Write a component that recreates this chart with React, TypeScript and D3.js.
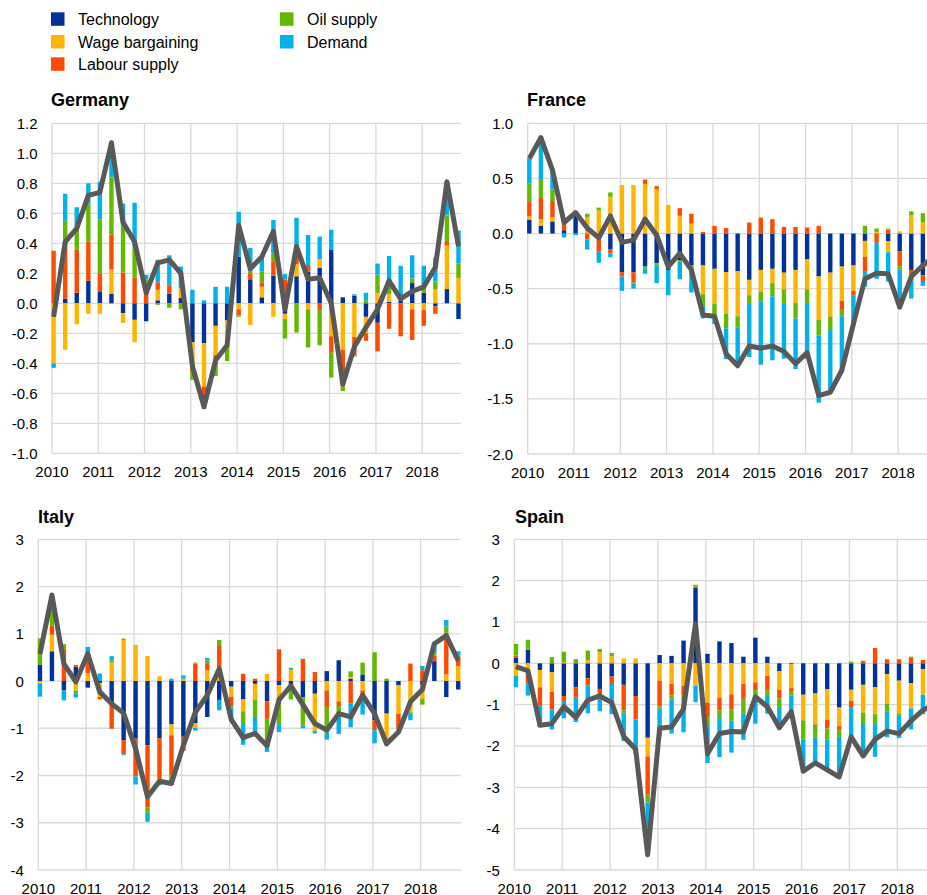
import React, { useEffect, useRef } from 'react';
import * as d3 from 'd3';

// series, in stacking order
const seriesKeys = ['tech', 'wage', 'labour', 'oil', 'demand'];
const seriesNames = ['Technology', 'Wage bargaining', 'Labour supply', 'Oil supply', 'Demand'];
const seriesColors = ['#003299', '#ffb400', '#ff4b00', '#65b800', '#00b1ea'];

const years = [2010, 2011, 2012, 2013, 2014, 2015, 2016, 2017, 2018];

// Germany (2010Q1 - 2018Q4)
const deTech = [0, 0.03, 0.07, 0.15, 0.08, 0.065, -0.065, -0.11, -0.12, 0.02, 0.065, 0.035, -0.26, -0.265, -0.15, -0.115, 0.31, 0.16, 0.04, 0.185, -0.07, 0.18, 0.21, 0.235, 0.355, 0.04, 0.05, -0.09, -0.13, 0.01, 0.02, 0.135, 0.07, -0.02, 0.095, -0.105];
const deWage = [-0.4, -0.31, -0.14, -0.07, -0.07, 0.16, -0.065, -0.15, 0, 0.07, 0, 0.065, -0.17, -0.29, -0.195, -0.17, -0.04, -0.145, 0.07, -0.09, -0.035, 0.08, -0.04, 0.06, -0.22, -0.31, -0.225, -0.11, 0.07, 0.05, 0, -0.04, -0.045, 0.095, 0.29, 0.17];
const deLabour = [0.35, 0.37, 0.29, 0.26, 0.12, 0.235, 0.205, 0.17, 0.08, 0.05, 0.055, 0, -0.03, -0.07, -0.02, 0, -0.04, 0.04, 0.03, 0.09, 0.16, 0.055, 0.045, -0.045, -0.11, -0.245, -0.12, -0.05, -0.19, -0.17, -0.22, -0.205, -0.105, -0.05, 0.03, 0.005];
const deOil = [0, 0.15, 0.15, 0.25, 0.36, 0.38, 0.31, 0.2, 0.08, -0.01, -0.03, -0.04, -0.05, -0.08, -0.12, -0.1, -0.01, 0.01, 0.07, 0.06, -0.13, -0.195, -0.255, -0.235, -0.165, -0.03, -0.01, 0.02, 0.12, 0.045, 0, 0.03, 0.02, 0.05, 0.17, 0.09];
const deDemand = [-0.03, 0.18, 0.13, 0.14, 0.25, 0.24, 0.15, 0.3, 0.03, 0.15, 0.2, 0.145, 0.09, 0.02, 0.11, 0.11, 0.3, 0.16, 0.1, 0.22, 0.035, 0.255, 0.2, 0.15, 0.135, 0, 0.01, 0.05, 0.075, 0.21, 0.23, 0.155, 0.16, 0.16, 0.23, 0.22];
const deTotal = [-0.09, 0.41, 0.5, 0.72, 0.74, 1.07, 0.54, 0.41, 0.07, 0.27, 0.29, 0.2, -0.42, -0.69, -0.38, -0.28, 0.52, 0.23, 0.31, 0.48, -0.04, 0.38, 0.16, 0.17, 0, -0.54, -0.29, -0.16, -0.04, 0.15, 0.03, 0.08, 0.11, 0.24, 0.81, 0.38];
const deTicks = [-1.0, -0.8, -0.6, -0.4, -0.2, 0.0, 0.2, 0.4, 0.6, 0.8, 1.0, 1.2];

// France
const frTech = [0.127, 0.07, 0.11, 0.03, 0.18, 0, 0, -0.145, -0.35, -0.35, -0.3, -0.27, -0.33, -0.24, -0.29, -0.29, -0.32, -0.35, -0.34, -0.42, -0.33, -0.32, -0.355, -0.33, -0.235, -0.39, -0.355, -0.3, -0.29, -0.067, 0, -0.07, -0.16, -0.33, -0.38, -0.3];
const frWage = [0.03, 0.06, 0.04, 0, 0, 0.15, 0.21, 0.333, 0.44, 0.44, 0.45, 0.4, 0.26, 0.16, 0.09, -0.26, -0.32, -0.38, -0.41, -0.14, -0.2, -0.13, -0.15, -0.3, -0.27, -0.39, -0.4, -0.31, -0.23, -0.145, 0.015, -0.1, 0.02, 0.167, 0.1, 0.1];
const frLabour = [0.13, 0.2, 0.145, 0.07, 0, -0.055, -0.165, -0.035, -0.04, -0.09, 0.04, 0.03, 0, 0.07, 0.09, 0.015, 0.07, 0.05, 0, 0.1, 0.145, 0.13, 0.06, 0.06, 0.055, 0.07, -0.01, -0.075, -0.04, -0.135, -0.085, 0.035, -0.135, -0.05, -0.06, -0.05];
const frOil = [0.165, 0.165, 0.105, 0.03, 0, 0.03, 0.025, 0.04, 0, -0.015, -0.02, -0.02, 0, -0.015, -0.015, -0.1, -0.1, -0.13, -0.1, -0.08, -0.09, -0.12, -0.125, -0.14, -0.125, -0.145, -0.11, -0.065, 0, 0.07, 0.03, 0.01, -0.03, 0.035, 0.085, 0.08];
const frDemand = [0.23, 0.39, 0.17, -0.035, -0.015, -0.09, -0.1, -0.035, -0.13, -0.045, -0.045, -0.16, -0.23, -0.16, -0.23, -0.12, -0.08, -0.28, -0.35, -0.48, -0.57, -0.58, -0.505, -0.46, -0.505, -0.61, -0.55, -0.51, -0.26, -0.135, -0.325, -0.265, -0.34, -0.21, -0.035, -0.03];
const frTotal = [0.68, 0.87, 0.575, 0.1, 0.19, 0.05, -0.04, 0.16, -0.08, -0.06, 0.13, -0.015, -0.3, -0.18, -0.33, -0.74, -0.75, -1.09, -1.2, -1.02, -1.04, -1.02, -1.07, -1.18, -1.08, -1.47, -1.44, -1.24, -0.82, -0.41, -0.36, -0.365, -0.667, -0.39, -0.29, -0.2];
const frTicks = [-2.0, -1.5, -1.0, -0.5, 0.0, 0.5, 1.0];

// Italy
const itTech = [0.35, 0.63, -0.2, 0.3, -0.14, -0.04, -0.45, -1.25, -1.22, -1.36, -1.21, -0.92, -1.18, -0.89, -0.76, -0.4, -0.12, -0.39, -0.06, -0.43, -0.09, -0.09, -0.34, -0.27, 0.21, 0.44, 0.05, 0.14, -0.83, -0.69, -0.09, 0, -0.08, 0.42, -0.34, -0.18];
const itWage = [-0.05, 0.35, 0, -0.2, 0.17, -0.3, 0.4, 0.87, 0.74, 0.53, 0.1, -0.23, 0.05, -0.1, 0.23, 0.08, -0.21, -0.25, -0.33, 0.15, -0.25, 0.24, 0, -0.78, -0.2, -0.43, 0.035, -0.2, 0, -0.67, -0.6, -0.66, -0.3, 0, 0.14, 0.32];
const itLabour = [0, 0.19, 0.68, 0.04, 0.3, -0.05, -0.56, -0.3, -0.8, -1.32, -0.86, -0.85, -0.3, 0.37, 0.13, 0.66, -0.2, 0.155, 0.05, -0.37, 0.67, 0, 0.47, 0.19, -0.35, -0.1, -0.47, -0.08, -0.21, 0, -0.32, 0.37, 0.23, 0.12, 0.88, 0.19];
const itOil = [0.55, 0.55, 0.1, -0.07, 0.1, 0, 0.035, 0.03, 0.015, -0.11, -0.035, -0.2, 0, 0.02, 0.08, 0.13, -0.03, -0.27, -0.37, -0.6, -0.58, -0.3, -0.6, -0.03, -0.54, -0.15, 0.12, 0.25, 0.61, 0.05, -0.07, -0.02, -0.12, 0.05, 0.13, 0.035];
const itDemand = [-0.28, 0.08, -0.21, -0.08, 0.15, 0.16, 0.09, -0.02, -0.17, -0.19, -0.1, 0.05, 0.07, -0.06, 0.05, -0.22, -0.25, -0.44, -0.4, -0.1, -0.16, 0.04, -0.06, -0.03, -0.15, -0.44, -0.51, -0.43, -0.28, 0, 0, -0.15, 0.09, 0.2, 0.14, 0.085];
const itTotal = [0.57, 1.82, 0.37, -0.02, 0.58, -0.23, -0.48, -0.68, -1.43, -2.45, -2.12, -2.17, -1.36, -0.66, -0.3, 0.26, -0.81, -1.2, -1.11, -1.37, -0.4, -0.1, -0.5, -0.9, -1.04, -0.69, -0.76, -0.3, -0.69, -1.33, -1.08, -0.44, -0.18, 0.79, 0.96, 0.43];
const itTicks = [-4, -3, -2, -1, 0, 1, 2, 3];

// Spain
const esTech = [0.13, 0.33, -0.16, -0.22, -0.79, -0.58, -0.36, -0.62, -0.32, -0.52, -0.79, -1.8, 0.2, 0.18, 0.55, 1.82, 0.23, 0.53, 0.49, 0.16, 0.62, 0.16, -0.19, -0.02, -0.76, -0.73, -0.63, -1.07, -0.64, -0.52, -0.58, -0.26, -0.42, -0.48, -0.14, -0.1];
const esWage = [-0.3, -0.16, -0.42, -0.47, 0.03, 0, 0.08, 0.27, 0.17, 0.12, 0.12, -0.45, -0.42, -0.5, -0.54, -0.54, -0.95, -0.83, -0.75, -0.5, -0.46, -0.3, -0.45, -0.58, -0.62, -0.75, -0.73, -0.45, -0.27, -0.67, -0.65, -0.71, -0.79, -0.61, -0.62, -0.55];
const esLabour = [0.06, -0.32, -0.43, -0.42, -0.12, -0.24, -0.18, -0.2, -0.18, -0.62, -0.57, -0.93, -0.62, -0.28, -0.24, 0.04, -0.35, -0.31, -0.36, -0.36, -0.19, -0.35, -0.21, -0.07, 0, -0.04, -0.22, -0.1, -0.15, 0.06, 0.37, 0.1, 0.1, 0.13, 0.08, 0.05];
const esOil = [0.28, 0.24, 0, 0.15, 0.25, 0.1, 0.23, 0.08, 0.08, -0.08, 0, -0.19, -0.06, -0.1, -0.12, 0.04, -0.22, -0.19, -0.28, -0.36, -0.14, -0.14, -0.23, -0.11, -0.46, -0.28, -0.27, -0.16, 0.04, -0.28, -0.24, -0.19, -0.06, 0.03, 0, 0];
const esDemand = [-0.28, -0.3, -0.53, -0.49, -0.42, -0.6, -0.67, -0.34, -0.73, -0.66, -0.84, -1.27, -0.67, -0.82, -0.77, -0.4, -0.89, -0.94, -0.77, -0.63, -0.67, -0.43, -0.47, -0.41, -0.77, -0.59, -0.7, -0.93, -0.76, -0.79, -0.79, -0.63, -0.54, -0.51, -0.47, -0.4];
const esTotal = [-0.08, -0.18, -1.5, -1.46, -1.05, -1.31, -0.89, -0.79, -0.95, -1.77, -2.08, -4.63, -1.57, -1.54, -1.1, 0.96, -2.19, -1.7, -1.65, -1.66, -0.81, -1.05, -1.56, -1.17, -2.61, -2.41, -2.58, -2.75, -1.78, -2.24, -1.84, -1.64, -1.7, -1.39, -1.13, -1.0];
const esTicks = [-5, -4, -3, -2, -1, 0, 1, 2, 3];

const FONT = 'Arial, "Liberation Sans", Helvetica, sans-serif';

const Panel = ({ title, parts, total, ticks, decimals, box }) => {
  const gRef = useRef(null);

  useEffect(() => {
    const g = d3.select(gRef.current);
    g.selectAll('*').remove();

    const { left, top, bottom, yearWidth, titleX, titleY } = box;
    const right = left + yearWidth * 8.84;
    const x = d3.scaleLinear().domain([2010, 2018.84]).range([left, right]);
    const y = d3
      .scaleLinear()
      .domain([ticks[0], ticks[ticks.length - 1]])
      .range([bottom, top]);

    const rows = total.map((t, i) => {
      const row = { q: 2010 + i / 4 + 0.035, total: t };
      seriesKeys.forEach((k, j) => {
        row[k] = parts[j][i];
      });
      return row;
    });

    // grid
    g.selectAll('.hgrid')
      .data(ticks)
      .enter()
      .append('line')
      .attr('x1', left)
      .attr('x2', right)
      .attr('y1', (d) => y(d))
      .attr('y2', (d) => y(d))
      .attr('stroke', '#d9d9d9')
      .attr('stroke-width', 1.3);

    g.selectAll('.vgrid')
      .data(years)
      .enter()
      .append('line')
      .attr('x1', (d) => x(d))
      .attr('x2', (d) => x(d))
      .attr('y1', top)
      .attr('y2', bottom)
      .attr('stroke', '#d9d9d9')
      .attr('stroke-width', 1.3);

    // stacked bars
    const stacked = d3
      .stack()
      .keys(seriesKeys)
      .offset(d3.stackOffsetDiverging)(rows);

    const barW = 4.4;
    stacked.forEach((layer, j) => {
      g.append('g')
        .attr('fill', seriesColors[j])
        .selectAll('rect')
        .data(layer)
        .enter()
        .append('rect')
        .attr('x', (d) => x(d.data.q) - barW / 2)
        .attr('y', (d) => y(Math.max(d[0], d[1])))
        .attr('width', barW)
        .attr('height', (d) => Math.abs(y(d[0]) - y(d[1])));
    });

    // total line
    const line = d3
      .line()
      .x((d) => x(d.q))
      .y((d) => y(d.total));

    g.append('path')
      .datum(rows)
      .attr('d', line)
      .attr('fill', 'none')
      .attr('stroke', '#595959')
      .attr('stroke-width', 5)
      .attr('stroke-linejoin', 'round');

    // y labels
    g.selectAll('.ylab')
      .data(ticks)
      .enter()
      .append('text')
      .attr('x', left - 14.5)
      .attr('y', (d) => y(d) + 5.5)
      .attr('text-anchor', 'end')
      .style('font-family', FONT)
      .style('font-size', '15px')
      .attr('fill', '#000')
      .text((d) => d.toFixed(decimals));

    // x labels
    g.selectAll('.xlab')
      .data(years)
      .enter()
      .append('text')
      .attr('x', (d) => x(d))
      .attr('y', bottom + 23.5)
      .attr('text-anchor', 'middle')
      .style('font-family', FONT)
      .style('font-size', '15px')
      .attr('fill', '#000')
      .text((d) => d);

    // title
    g.append('text')
      .attr('x', titleX)
      .attr('y', titleY)
      .style('font-family', FONT)
      .style('font-size', '18px')
      .style('font-weight', 'bold')
      .attr('fill', '#000')
      .text(title);
  }, [title, parts, total, ticks, decimals, box]);

  return <g ref={gRef} />;
};

const Legend = () => {
  const rows = [
    { i: 0, x: 51, y: 12.3 },
    { i: 1, x: 51, y: 35 },
    { i: 2, x: 51, y: 57.3 },
    { i: 3, x: 280, y: 12.3 },
    { i: 4, x: 280, y: 35 },
  ];
  return (
    <g>
      {rows.map((r) => (
        <g key={r.i}>
          <rect x={r.x} y={r.y} width={13.5} height={13.5} fill={seriesColors[r.i]} />
          <text
            x={r.x + 27}
            y={r.y + 12.8}
            style={{ fontFamily: FONT, fontSize: '16px' }}
            fill="#000"
          >
            {seriesNames[r.i]}
          </text>
        </g>
      ))}
    </g>
  );
};

const panels = [
  {
    title: 'Germany',
    parts: [deTech, deWage, deLabour, deOil, deDemand],
    total: deTotal,
    ticks: deTicks,
    decimals: 1,
    box: { left: 52, top: 123.3, bottom: 453.3, yearWidth: 46.27, titleX: 51, titleY: 106 },
  },
  {
    title: 'France',
    parts: [frTech, frWage, frLabour, frOil, frDemand],
    total: frTotal,
    ticks: frTicks,
    decimals: 1,
    box: { left: 527.7, top: 123.3, bottom: 454, yearWidth: 46.3, titleX: 527, titleY: 106 },
  },
  {
    title: 'Italy',
    parts: [itTech, itWage, itLabour, itOil, itDemand],
    total: itTotal,
    ticks: itTicks,
    decimals: 0,
    box: { left: 38.3, top: 539.3, bottom: 870, yearWidth: 47.8, titleX: 38, titleY: 523 },
  },
  {
    title: 'Spain',
    parts: [esTech, esWage, esLabour, esOil, esDemand],
    total: esTotal,
    ticks: esTicks,
    decimals: 0,
    box: { left: 514.3, top: 539.3, bottom: 870, yearWidth: 47.88, titleX: 515, titleY: 523 },
  },
];

export default function App() {
  return (
    <svg
      width={927}
      height={895}
      style={{ position: 'absolute', left: 0, top: 0, background: '#fff', display: 'block' }}
    >
      <rect x={0} y={0} width={927} height={895} fill="#fff" />
      <Legend />
      {panels.map((p) => (
        <Panel key={p.title} {...p} />
      ))}
    </svg>
  );
}
